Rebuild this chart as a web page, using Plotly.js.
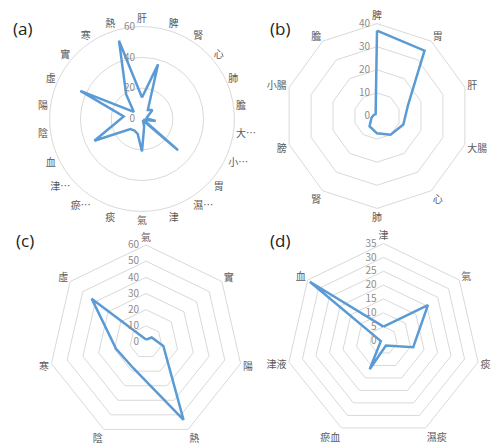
<!DOCTYPE html>
<html>
<head>
<meta charset="utf-8">
<script src="https://cdn.plot.ly/plotly-3.0.1.min.js"></script>
<style>html,body{margin:0;padding:0;background:#fff;}#chart{width:493px;height:444px;}</style>
</head>
<body>
<div id="chart"></div>
<script>
// (a)
const catA = ['肝','脾','腎','心','肺','膽','大…','小…','胃','濕…','津','氣','痰','瘀…','津…','血','陰','陽','虛','實','寒','熱'];
const valA = [14,37,7,9,4,3,9,1,31,1,5,21,10,9,10,34,17,12,44,7,19,53];
// (b)
const catB = ['脾','胃','肝','大腸','心','肺','腎','膀','小腸','膽'];
const valB = [37,35,14,12,10,7.5,5.5,2.5,1.5,1];
// (c)
const catC = ['氣','實','陽','熱','陰','寒','虛'];
const valC = [1.5,4.5,11,53.5,18,19,43];
// (d)
const catD = ['津','氣','痰','濕痰','瘀血','津液','血'];
const valD = [5,20.5,11,2,11.5,1,34];

const panelLabels = ['(a)','(b)','(c)','(d)'];

const W = 493, H = 444;
const FONT = 'Noto Sans CJK TC, Noto Sans, sans-serif';
const LINE = '#5b9bd5';
const GRID = '#d9d9d9';

function trace(cat, val, sub) {
  return {
    type: 'scatterpolar', mode: 'lines', subplot: sub,
    theta: cat.concat([cat[0]]), r: val.concat([val[0]]),
    line: {color: LINE, width: 2.5}, hoverinfo: 'skip'
  };
}
function polar(cx, cy, rad, cat, range, dtick, shape) {
  return {
    domain: {x: [(cx - rad) / W, (cx + rad) / W], y: [1 - (cy + rad) / H, 1 - (cy - rad) / H]},
    gridshape: shape, bgcolor: 'rgba(0,0,0,0)',
    angularaxis: {rotation: 90, direction: 'clockwise', showgrid: false, showline: true,
      linecolor: GRID, linewidth: 1, ticks: '', type: 'category',
      categoryorder: 'array', categoryarray: cat,
      tickfont: {size: 10, color: '#595959', family: FONT}},
    radialaxis: {range: range, dtick: dtick, tick0: 0, showline: false, ticks: '', angle: 90,
      tickangle: 90, side: 'counterclockwise', ticksuffix: '\u2002', gridcolor: GRID, gridwidth: 1,
      tickfont: {size: 10, color: '#8c8c8c', family: FONT}}
  };
}

const data = [trace(catA, valA, 'polar'), trace(catB, valB, 'polar2'), trace(catC, valC, 'polar3'), trace(catD, valD, 'polar4')];
const pos = [[22, 28], [280, 28], [25, 240], [280, 240]];
const layout = {
  width: W, height: H, margin: {l: 0, r: 0, t: 0, b: 0},
  paper_bgcolor: '#fff', showlegend: false, font: {family: FONT},
  polar: polar(142, 119, 92.4, catA, [0, 60], 20, 'circular'),
  polar2: polar(377, 116, 92.4, catB, [0, 40], 10, 'linear'),
  polar3: polar(146, 342, 97, catC, [0, 60], 10, 'linear'),
  polar4: polar(383.5, 340.5, 97, catD, [0, 35], 5, 'linear'),
  annotations: panelLabels.map((t, i) => ({
    text: t, xref: 'paper', yref: 'paper', x: pos[i][0] / W, y: 1 - pos[i][1] / H,
    xanchor: 'center', yanchor: 'middle', showarrow: false,
    font: {size: 17, color: '#222', family: 'Open Sans, sans-serif'}
  }))
};
Plotly.newPlot('chart', data, layout, {staticPlot: true});
</script>
</body>
</html>
